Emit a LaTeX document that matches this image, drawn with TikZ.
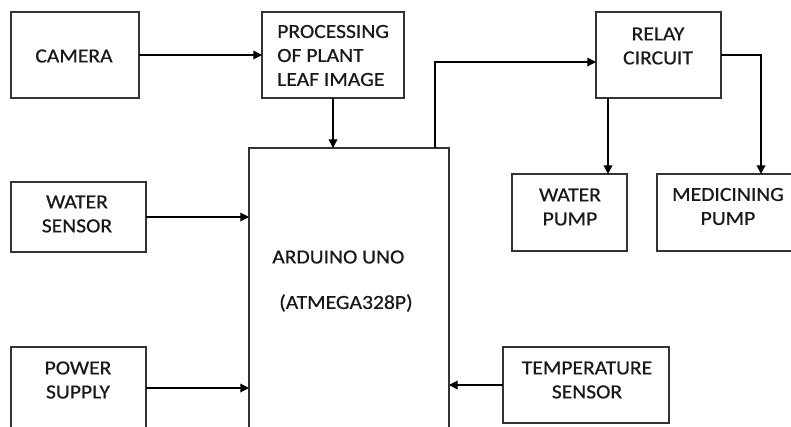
\documentclass[tikz,border=0pt]{standalone}
\usepackage{fontspec}
\setmainfont{Carlito}[FakeStretch=1.08,FakeBold=0.6]
\usetikzlibrary{arrows.meta}
\begin{document}
\begin{tikzpicture}[x=0.75pt,y=-0.75pt,
  box/.style={draw=black!80,line width=0.9pt,inner sep=0pt,outer sep=0pt},
  txt/.style={font=\fontsize{15}{18}\selectfont,inner sep=0pt,align=center,text=black!90},
  arr/.style={draw=black,line width=0.9pt,-{Triangle[length=6.5pt,width=6.5pt]}}]
\useasboundingbox (0,0) rectangle (791,426);
% boxes
\node[box,minimum width=96pt,minimum height=64.5pt] (cam) at (75,55) {};
\node[box,minimum width=106.5pt,minimum height=64.5pt] (proc) at (333,55) {};
\node[box,minimum width=101.25pt,minimum height=52.5pt] (ws) at (78.5,217) {};
\node[box,minimum width=101.25pt,minimum height=61.5pt] (pw) at (78.5,388) {};
\node[box,minimum width=150pt,minimum height=219pt] (ard) at (349,294) {};
\node[box,minimum width=93.75pt,minimum height=64.5pt] (relay) at (658.5,55) {};
\node[box,minimum width=86.25pt,minimum height=57.75pt] (wp) at (569.5,212.5) {};
\node[box,minimum width=156pt,minimum height=57.75pt] (med) at (761,212.5) {};
\node[box,minimum width=124.5pt,minimum height=57pt] (temp) at (586,385) {};
% texts
\node[txt] (camt) at (74,56) {CAMERA};
\node[txt,align=left,anchor=west] (proct) at (277,55.5) {PROCESSING\\OF PLANT\\LEAF IMAGE};
\node[txt] (wst) at (77,214) {WATER\\SENSOR};
\node[txt] (pwt) at (78,380) {POWER\\SUPPLY};
\node[txt,anchor=west] (ardt1) at (272,257) {ARDUINO UNO};
\node[txt,anchor=west] (ardt2) at (279,303) {(ATMEGA328P)};
\node[txt] (relayt) at (658,46) {RELAY\\CIRCUIT};
\node[txt] (wpt) at (570,207) {WATER\\PUMP};
\node[txt] (medt) at (728,206.5) {MEDICINING\\PUMP};
\node[txt] (tempt) at (587,380) {TEMPERATURE\\SENSOR};
% connectors
\draw[arr] (cam.east) -- (proc.west);
\draw[arr] (proc.south) -- (proc.south |- ard.north);
\draw[arr] (ws.east) -- (ws.east -| ard.west);
\draw[arr] (pw.east) -- (pw.east -| ard.west);
\draw[arr] (temp.west) -- (temp.west -| ard.east);
\draw[arr] ([xshift=-10.5pt]ard.north east) |- ([yshift=-5.25pt]relay.west);
\draw[arr] ([xshift=9pt]relay.south west) -- ([xshift=9pt]relay.south west |- wp.north);
\draw[arr] (relay.east) -| (med.north);
\end{tikzpicture}
\end{document}
